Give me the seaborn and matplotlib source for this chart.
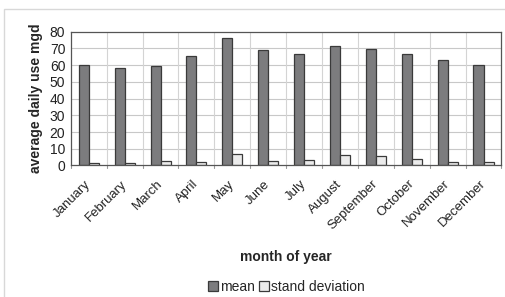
import pandas as pd
import matplotlib.pyplot as plt
import matplotlib.transforms as mtransforms
import seaborn as sns
from matplotlib.patches import Rectangle

months = ['January', 'February', 'March', 'April', 'May', 'June', 'July',
          'August', 'September', 'October', 'November', 'December']
mean_use = [60.0, 58.2, 59.4, 65.7, 76.2, 68.9, 66.5, 71.5, 69.5, 66.5, 63.1, 60.0]
std_use = [1.2, 1.2, 2.4, 1.8, 6.8, 2.4, 3.0, 6.2, 5.6, 3.8, 1.8, 1.8]
series = ['mean', 'stand deviation']


def main():
    data = pd.DataFrame({
        'month': months * 2,
        'value': mean_use + std_use,
        'series': [series[0]] * 12 + [series[1]] * 12,
    })

    sns.set_style('white')
    plt.rcParams['font.family'] = ['Liberation Sans', 'DejaVu Sans']

    fig = plt.figure(figsize=(5.06, 2.97), dpi=100)
    fig.patches.append(Rectangle((4 / 506, -0.1), 1.2, (297 - 9) / 297 + 0.1,
                                 transform=fig.transFigure, fill=False,
                                 edgecolor='#d8d8d8', linewidth=1))
    ax = fig.add_axes([0.140, 0.443, 0.851, 0.450])

    sns.barplot(data=data, x='month', y='value', hue='series', ax=ax,
                palette=['#7c7c7e', '#ebebeb'], edgecolor='#3a3a3a',
                linewidth=0.9, width=0.56, gap=0, legend=True)

    ax.set_ylim(0, 80)
    ax.set_xlim(-0.5, 11.5)
    ax.set_yticks(range(0, 81, 10))
    ax.set_yticklabels([str(v) for v in range(0, 81, 10)], fontsize=10, color='#222222')
    ax.set_xticks(range(12))
    ax.set_xticklabels(months, rotation=45, ha='right', rotation_mode='anchor',
                       fontsize=9.5, color='#222222')
    ax.tick_params(axis='x', length=0, pad=9)
    ax.tick_params(axis='y', length=0, pad=4)
    shift = mtransforms.ScaledTranslation(-4 / 100, 0, fig.dpi_scale_trans)
    for lab in ax.get_xticklabels():
        lab.set_transform(lab.get_transform() + shift)

    # gridlines: horizontal every 10, vertical at category boundaries
    for v in range(10, 80, 10):
        ax.axhline(v, color='#c8c8c8', linewidth=0.8, zorder=0)
    for b in range(1, 12):
        ax.axvline(b - 0.5, color='#d4d4d4', linewidth=0.8, zorder=0)
    for b in range(13):
        ax.plot([b - 0.5, b - 0.5], [0, -1.8], color='#999999', linewidth=0.8,
                clip_on=False)
    for side in ax.spines.values():
        side.set_color('#555555')
        side.set_linewidth(0.9)

    ax.set_ylabel('average daily use mgd', fontsize=10, fontweight='bold', labelpad=5)
    ax.set_xlabel('month of year', fontsize=10, fontweight='bold')
    ax.xaxis.set_label_coords(0.5, -0.63)

    handles, labels = ax.get_legend_handles_labels()
    ax.legend(handles, labels, loc='center', bbox_to_anchor=(0.5, -0.91),
              ncol=2, frameon=False, fontsize=10, handlelength=0.7,
              handleheight=0.7, handletextpad=0.15, columnspacing=0.3)

    fig.savefig('out.png', dpi=100)


if __name__ == "__main__":
    main()
